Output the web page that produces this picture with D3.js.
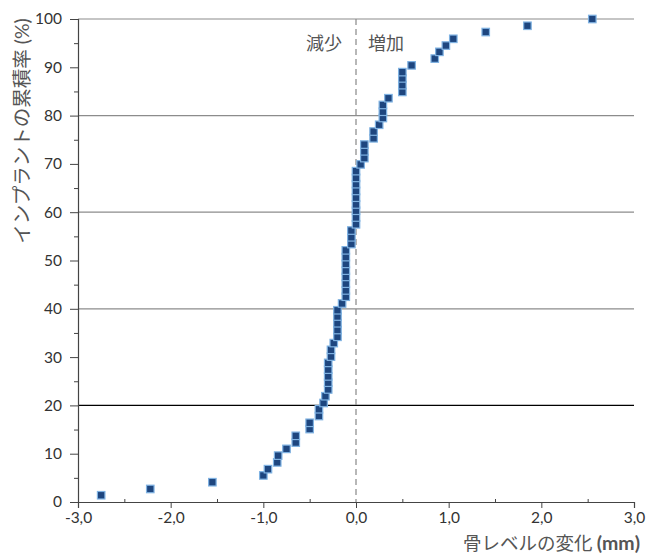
<!DOCTYPE html>
<html><head><meta charset="utf-8">
<script src="https://d3js.org/d3.v7.min.js"></script>
<style>
body{margin:0;background:#fff;}
svg{display:block;}
text{font-family:"Lato","Noto Sans CJK JP",sans-serif;}
</style></head>
<body>
<svg id="c" width="648" height="556"></svg>
<script>
// Bone level change (mm) for each implant, sorted
const boneChange = [
 -2.75,-2.22,-1.55,-1.00,-0.95,-0.85,-0.84,-0.75,-0.65,-0.65,
 -0.50,-0.50,-0.40,-0.40,-0.35,-0.33,-0.30,-0.30,-0.30,-0.30,
 -0.30,-0.27,-0.27,-0.24,-0.20,-0.20,-0.20,-0.20,-0.20,-0.15,
 -0.11,-0.11,-0.11,-0.11,-0.11,-0.11,-0.11,-0.11,-0.05,-0.05,
 -0.05, 0.00, 0.00, 0.00, 0.00, 0.00, 0.00, 0.00, 0.00, 0.00,
  0.05, 0.09, 0.09, 0.09, 0.19, 0.19, 0.25, 0.29, 0.29, 0.29,
  0.35, 0.50, 0.50, 0.50, 0.50, 0.60, 0.85, 0.90, 0.97, 1.05,
  1.40, 1.85, 2.55
];
// Cumulative percentage of implants (%)
const cumPercent = [
  1.4, 2.7, 4.1, 5.5, 6.8, 8.2, 9.6,11.0,12.3,13.7,
 15.1,16.4,17.8,19.2,20.5,21.9,23.3,24.7,26.0,27.4,
 28.8,30.1,31.5,32.9,34.2,35.6,37.0,38.4,39.7,41.1,
 42.5,43.8,45.2,46.6,47.9,49.3,50.7,52.1,53.4,54.8,
 56.2,57.5,58.9,60.3,61.6,63.0,64.4,65.8,67.1,68.5,
 69.9,71.2,72.6,74.0,75.3,76.7,78.1,79.5,80.8,82.2,
 83.6,84.9,86.3,87.7,89.0,90.4,91.8,93.2,94.5,95.9,
 97.3,98.6,100.0
];
const xTicks = [-3,-2,-1,0,1,2,3];
const yTicks = [0,10,20,30,40,50,60,70,80,90,100];
const gridValues = [20,40,60,80,100];
const xLabelMain = "骨レベルの変化 ", xLabelUnit = "(mm)";
const yLabel = "インプラントの累積率 (%)";
const leftNote = "減少", rightNote = "増加";

const svg = d3.select("#c");
const L=78, R=634, T=19, B=502;
const x = d3.scaleLinear().domain([-3,3]).range([L,R]);
const y = d3.scaleLinear().domain([0,100]).range([B,T]);

// gridlines
svg.append("g").selectAll("line").data(gridValues).join("line")
  .attr("x1",L).attr("x2",R)
  .attr("y1",d=>y(d)).attr("y2",d=>y(d))
  .attr("stroke",d=>d===20?"#000":"#8c8c8c").attr("stroke-width",1.2);

// zero dashed line
svg.append("line").attr("x1",x(0)).attr("x2",x(0)).attr("y1",T).attr("y2",B)
  .attr("stroke","#888").attr("stroke-width",1.2).attr("stroke-dasharray","6,4");

// y axis
const yAxis = d3.axisLeft(y).tickValues(yTicks).tickSize(8).tickPadding(8).tickFormat(d3.format("d"));
const gy = svg.append("g").attr("transform",`translate(${L},0)`).call(yAxis);
gy.select(".domain").attr("stroke","#444").attr("stroke-width",1.2);
gy.selectAll(".tick line").attr("stroke","#444");
gy.selectAll(".tick text").attr("font-size",15.5).attr("fill","#333").attr("font-family","Lato,sans-serif");
// minor y ticks
const yMinor = d3.axisLeft(y).tickValues(yTicks.slice(0,-1).map(d=>d+5)).tickSize(4).tickFormat("");
const gym = svg.append("g").attr("transform",`translate(${L},0)`).call(yMinor);
gym.select(".domain").remove();
gym.selectAll(".tick line").attr("stroke","#444");

// x axis
const fmt = d=>d3.format(".1f")(d).replace(".",",").replace("−","-");
const xAxis = d3.axisBottom(x).tickValues(xTicks).tickSize(6).tickPadding(4).tickFormat(fmt);
const gx = svg.append("g").attr("transform",`translate(0,${B})`).call(xAxis);
gx.select(".domain").attr("stroke","#444").attr("stroke-width",1.2);
gx.selectAll(".tick line").attr("stroke","#444");
gx.selectAll(".tick text").attr("font-size",15.5).attr("fill","#333").attr("font-family","Lato,sans-serif");
const xMinor = d3.axisTop(x).tickValues(xTicks.slice(0,-1).map(d=>d+0.5)).tickSize(3).tickFormat("");
const gxm = svg.append("g").attr("transform",`translate(0,${B})`).call(xMinor);
gxm.select(".domain").remove();
gxm.selectAll(".tick line").attr("stroke","#444");

// markers
const pts = boneChange.map((v,i)=>({x:v,y:cumPercent[i]}));
const s=7.5;
svg.append("g").selectAll("rect").data(pts).join("rect")
  .attr("x",d=>x(d.x)-s/2).attr("y",d=>y(d.y)-s/2)
  .attr("width",s).attr("height",s)
  .attr("fill","#1e467f").attr("stroke","#7fb2e2").attr("stroke-width",1.2);

// notes
svg.append("text").attr("x",x(0)-14).attr("y",50).attr("text-anchor","end")
  .attr("font-size",18).attr("fill","#555").attr("font-family","'Noto Sans CJK JP',sans-serif").text(leftNote);
svg.append("text").attr("x",x(0)+12).attr("y",50).attr("text-anchor","start")
  .attr("font-size",18).attr("fill","#555").attr("font-family","'Noto Sans CJK JP',sans-serif").text(rightNote);

// axis labels
const xl = svg.append("text").attr("x",640).attr("y",550).attr("text-anchor","end")
  .attr("fill","#555");
xl.append("tspan").attr("font-size",18.5).attr("font-family","'Noto Sans CJK JP',sans-serif").text(xLabelMain);
xl.append("tspan").attr("font-size",19.5).attr("font-weight",700).attr("font-family","Lato,sans-serif").text(xLabelUnit);
svg.append("text").attr("transform","translate(29,131) rotate(-90)").attr("text-anchor","middle")
  .attr("font-size",19.5).attr("fill","#555").attr("font-family","'Noto Sans CJK JP',sans-serif").text(yLabel);
</script>
</body></html>
